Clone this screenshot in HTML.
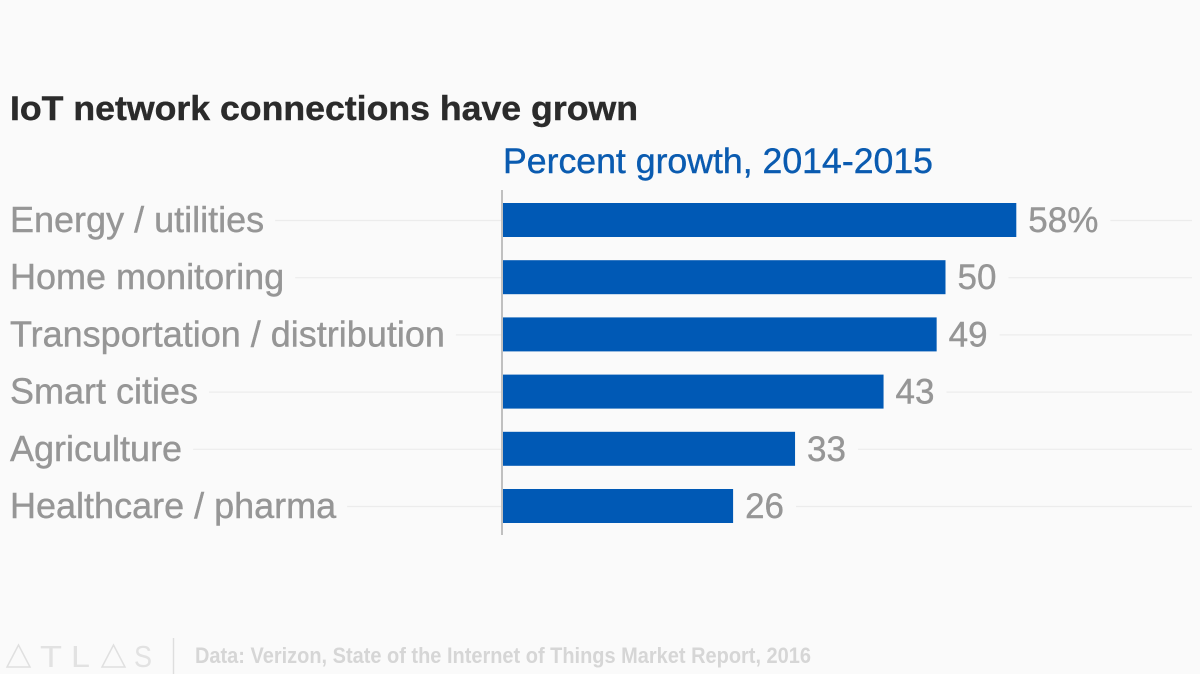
<!DOCTYPE html>
<html lang="en">
<head>
<meta charset="utf-8">
<title>IoT network connections have grown</title>
<style>
html,body{margin:0;padding:0;background:#fafafa;width:1200px;height:674px;overflow:hidden}
svg{display:block;font-family:"Liberation Sans",sans-serif;filter:blur(0.35px)}
</style>
</head>
<body>
<svg id="chart" width="1200" height="674" viewBox="0 0 1200 674" xmlns="http://www.w3.org/2000/svg">
  <rect width="1200" height="674" fill="#fafafa"/>
  <text x="10" y="120" font-size="34" font-weight="700" fill="#2b2b2b" stroke="#2b2b2b" stroke-width="0.4" textLength="628" lengthAdjust="spacingAndGlyphs">IoT network connections have grown</text>
  <text x="503" y="173" font-size="35" fill="#0a5bb0" stroke="#0a5bb0" stroke-width="0.4" textLength="430" lengthAdjust="spacingAndGlyphs">Percent growth, 2014-2015</text>
  <g id="rows"></g>
  <line x1="502" x2="502" y1="190" y2="535" stroke="#a8a8a8" stroke-width="1.4"/>
  <g fill="none" stroke="#e0e0e0" stroke-width="1.5">
    <polygon points="18.5,645 7,667 30,667"/>
    <polygon points="113.5,645 102,667 125,667"/>
    <text x="40" y="667" font-size="31" fill="#e2e2e2" stroke="none" textLength="22" lengthAdjust="spacingAndGlyphs">T</text>
    <text x="71" y="667" font-size="31" fill="#e2e2e2" stroke="none" textLength="19" lengthAdjust="spacingAndGlyphs">L</text>
    <text x="134" y="667" font-size="31" fill="#e2e2e2" stroke="none" textLength="18" lengthAdjust="spacingAndGlyphs">S</text>
  </g>
  <line x1="173.5" x2="173.5" y1="638" y2="674" stroke="#dedede" stroke-width="1.4"/>
  <text x="195" y="663" font-size="22" font-weight="700" fill="#d6d6d6" textLength="616" lengthAdjust="spacingAndGlyphs">Data: Verizon, State of the Internet of Things Market Report, 2016</text>
</svg>
<script>
const categories = ["Energy / utilities", "Home monitoring", "Transportation / distribution", "Smart cities", "Agriculture", "Healthcare / pharma"];
const growthValues = [58, 50, 49, 43, 33, 26];
const valueSuffixes = ["%", "", "", "", "", ""];

const NS = "http://www.w3.org/2000/svg";
const rows = document.getElementById("rows");
const xOrigin = 503;
const xPerUnit = 8.85;
const firstRowCenter = 220;
const rowStep = 57.2;
const barHeight = 34;
const gridEnd = 1192;
const xScale = function (v) { return xOrigin + v * xPerUnit; };
const yScale = function (i) { return firstRowCenter + i * rowStep; };

function svgEl(tag, attrs) {
  const el = document.createElementNS(NS, tag);
  Object.keys(attrs).forEach(function (k) { el.setAttribute(k, attrs[k]); });
  rows.appendChild(el);
  return el;
}

categories.forEach(function (category, i) {
  const cy = yScale(i);
  const value = growthValues[i];
  const barEnd = xScale(value);

  const label = svgEl("text", { x: 10, y: cy + 12, "font-size": 36, fill: "#969696", stroke: "#969696", "stroke-width": 0.4 });
  
  
  label.textContent = category;
  const labelWidth = label.getComputedTextLength();

  const leftGrid = svgEl("line", { x1: 10 + labelWidth + 11, x2: xOrigin - 2, y1: cy + 0.5, y2: cy + 0.5, stroke: "#ececec", "stroke-width": 1.2 });
  
  

  const bar = svgEl("rect", { x: xOrigin, y: cy - barHeight / 2, width: barEnd - xOrigin, height: barHeight, fill: "#0059b5" });
  
  

  const valueLabel = svgEl("text", { x: barEnd + 12, y: cy + 12, "font-size": 35, fill: "#969696", stroke: "#969696", "stroke-width": 0.4 });
  
  
  valueLabel.textContent = value + valueSuffixes[i];
  const valueEnd = barEnd + 12 + valueLabel.getComputedTextLength();

  const rightGrid = svgEl("line", { x1: valueEnd + 12, x2: gridEnd, y1: cy + 0.5, y2: cy + 0.5, stroke: "#ececec", "stroke-width": 1.2 });
  
  
});
</script>
</body>
</html>
